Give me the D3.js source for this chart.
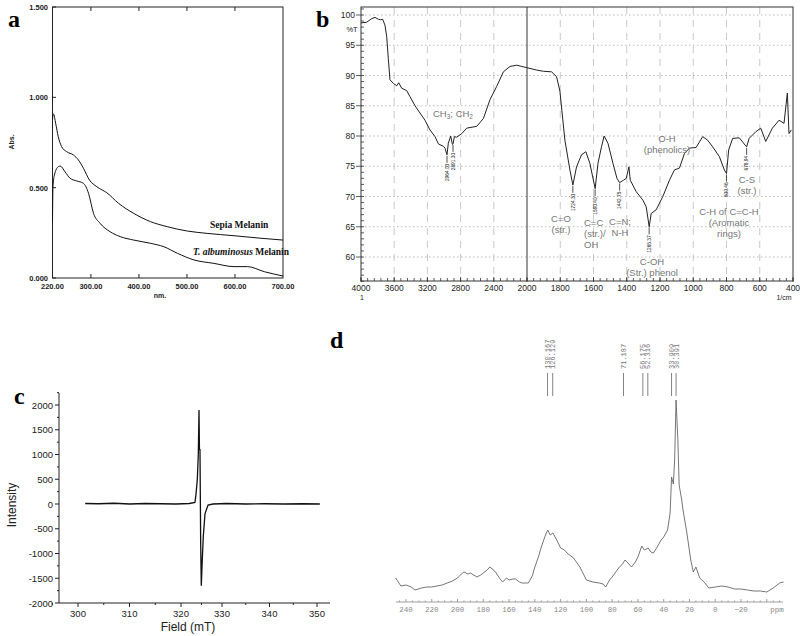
<!DOCTYPE html>
<html><head><meta charset="utf-8">
<script src="https://cdn.jsdelivr.net/npm/d3@7"></script>
<style>
html,body{margin:0;padding:0;background:#fff;}
svg{display:block;}
</style></head>
<body>
<svg id="fig" width="800" height="636"></svg>
<script>
// ---------- Panel a : UV-Vis ----------
const uvSepiaNm  = [220,221,222,226.6,232,239,249.6,263.5,274,284.5,297,312.4,333,357.7,389,424,459,500.6,542,598,654,700];
const uvSepiaAbs = [0.874,0.905,0.908,0.856,0.782,0.727,0.699,0.681,0.653,0.607,0.542,0.505,0.472,0.413,0.358,0.312,0.284,0.26,0.247,0.234,0.22,0.21];
const uvTalbNm   = [220,221,224,232,236,246,256.6,270.6,284.5,295,305.4,319,340,361,389,424,452,480,514.6,556,598,626,661,700];
const uvTalbAbs  = [0.312,0.505,0.57,0.616,0.62,0.588,0.552,0.537,0.524,0.469,0.358,0.303,0.256,0.229,0.21,0.192,0.173,0.137,0.1,0.081,0.063,0.063,0.035,0.011];
const uvXTicks = [220,300,400,500,600,700];
const uvYTicks = [0,0.5,1.0,1.5];

// ---------- Panel b : FTIR ----------
const irWn = [4000,3932,3871,3831,3791,3763,3739,3711,3690,3671,3651,3611,3570,3545,3510,3449,3410,3349,3289,3229,3169,3108,3068,3008,2988,2964,2948,2919,2899,2891,2875,2847,2786,2726,2605,2525,2446,2365,2285,2205,2124,2004,1942,1902,1852,1822,1802,1772,1742,1724,1702,1672,1646,1622,1590,1573,1552,1536,1513,1483,1459,1443,1419,1403,1387,1379,1343,1303,1283,1265,1253,1223,1183,1143,1113,1083,1053,1023,983,943,913,883,843,813,800,787,763,723,688,679,664,624,594,564,524,484,454,434,424,410];
const irT  = [98.7,98.8,99.4,99.6,99.3,99.2,99.3,98.3,96.4,92.8,89.3,88.7,88.3,88.8,87.9,87.5,86.5,85.0,83.8,82.6,81.0,79.9,78.7,78.3,78.0,76.9,78.8,80.0,78.6,78.7,79.9,79.8,80.4,81.3,81.6,82.9,86.0,88.2,90.6,91.5,91.7,91.3,90.9,90.7,90.6,89.8,87.4,79.3,74.4,71.9,74.9,76.9,77.4,75.5,71.3,75.5,78.2,80.0,78.8,75.5,73.0,72.3,72.7,73.0,74.9,72.7,70.8,69.4,68.3,65.0,67.2,67.8,70.0,72.7,74.4,74.7,77.1,78.0,78.1,79.9,79.3,78.2,76.6,74.4,73.8,77.7,79.6,79.7,78.5,78.2,79.6,80.7,81.3,79.1,81.3,82.6,82.1,87.1,80.4,81.0];
const irXTicks = [4000,3600,3200,2800,2400,2000,1800,1600,1400,1200,1000,800,600,400];
const irYTicks = [60,65,70,75,80,85,90,95,100];
const irPeakWn  = [2964.00,2891.30,1724.30,1590.40,1442.75,1265.37,800.46,678.94];
const irPeakLbl = ["2964.00","2891.30","1724.30","1590.40","1442.75","1265.37","800.46","678.94"];

// ---------- Panel c : EPR ----------
const eprField = [301.4,304,307,310,313,316,319,322,323.4,323.66,323.98,324.22,324.39,324.5,324.63,324.8,324.95,325.2,325.44,325.85,326.59,327.8,331,335,339,343,347,350.6];
const eprInt   = [10,5,15,0,10,5,0,10,30,200,500,1000,1900,1100,1100,-800,-1650,-1100,-650,-200,-20,0,10,0,5,0,5,0];
const eprXTicks = [300,310,320,330,340,350];
const eprYTicks = [-2000,-1500,-1000,-500,0,500,1000,1500,2000];

// ---------- Panel d : 13C NMR ----------
const nmrPpm = [248,244,240,236,233,228,224,220,216,212,208,204,200,197,195,192,190,185,182,180,177,175,172,170,167,165,162,160,157,155,152,150,147,145,142,140,137,135,132,130,128,126,123,120,117,115,110,105,100,95,90,87,85,82,80,75,72,70,67,65,62,60,57,55,52,50,48,45,42,40,37,35,33.9,32.5,31.5,30.4,29,28,26,25,22,19,17,15,12,8,5,0,-5,-10,-15,-20,-25,-30,-35,-40,-45,-50,-53];
const nmrInt = [11,7,7.5,6.5,5,6,6.5,6.5,7,7.5,8.5,9.5,11,13,14,13,13.5,11.5,12.5,13.5,15,16.5,15,13.5,10.5,9,11,10,10.5,10.5,9,8.5,8.5,8.5,12,16.5,22,26.5,32,35,32.5,33.5,30,26,25,23.5,21,16.5,10,9,8.5,8,6.5,10,11.5,16,18,20,18,16.5,19,21.5,27,25,26,24,23.5,26.5,30,31.5,35,43.5,61.5,58,70,100,80,57.5,50,45,33.5,20,14,16.5,11,8.5,6,6.5,7,6.5,5.5,5.5,5,4.5,4.5,4,6,8.5,9];
const nmrXTicks = [240,220,200,180,160,140,120,100,80,60,40,20,0,-20];
const nmrPeakPpm = [130.167,126.129,71.187,56.175,52.316,33.909,30.391];
const nmrPeakLbl = ["130.167","126.129","71.187","56.175","52.316","33.909","30.391"];

const svg = d3.select("#fig");
const SANS = "'Liberation Sans', Arial, sans-serif";
const SERIF = "'Liberation Serif', 'Times New Roman', serif";
const MONO = "'Liberation Mono', 'DejaVu Sans Mono', monospace";

function panelLetter(t, x, y){
  svg.append("text").attr("x",x).attr("y",y).text(t)
    .attr("font-family",SERIF).attr("font-weight","bold").attr("font-size",24).attr("fill","#000");
}

// ================= Panel a =================
(function(){
  const g = svg.append("g");
  const x = d3.scaleLinear().domain([220,700]).range([52.5,283]);
  const y = d3.scaleLinear().domain([0,1.5]).range([278,7]);
  g.append("rect").attr("x",52.5).attr("y",7).attr("width",230.5).attr("height",271)
    .attr("fill","none").attr("stroke","#222").attr("stroke-width",1);
  uvYTicks.forEach(v=>{
    g.append("line").attr("x1",52.5).attr("x2",56).attr("y1",y(v)).attr("y2",y(v)).attr("stroke","#222");
    g.append("text").attr("x",48).attr("y",y(v)+3).attr("text-anchor","end").text(v.toFixed(3))
      .attr("font-family",SANS).attr("font-weight","bold").attr("font-size",7.5).attr("fill","#222");
  });
  uvXTicks.forEach(v=>{
    if(v!==220 && v!==700){
      g.append("line").attr("x1",x(v)).attr("x2",x(v)).attr("y1",278).attr("y2",274).attr("stroke","#222");
      g.append("line").attr("x1",x(v)).attr("x2",x(v)).attr("y1",7).attr("y2",11).attr("stroke","#222");
    }
    g.append("text").attr("x",x(v)).attr("y",289).attr("text-anchor","middle").text(v.toFixed(2))
      .attr("font-family",SANS).attr("font-weight","bold").attr("font-size",7.5).attr("fill","#222");
  });
  g.append("text").attr("x",160).attr("y",298).attr("text-anchor","middle").text("nm.")
    .attr("font-family",SANS).attr("font-weight","bold").attr("font-size",7).attr("fill","#222");
  g.append("text").attr("transform","translate(14,142) rotate(-90)").attr("text-anchor","middle").text("Abs.")
    .attr("font-family",SANS).attr("font-weight","bold").attr("font-size",7).attr("fill","#222");
  const line = d3.line().x(d=>x(d[0])).y(d=>y(d[1])).curve(d3.curveMonotoneX);
  g.append("path").attr("d",line(uvSepiaNm.map((n,i)=>[n,uvSepiaAbs[i]])))
    .attr("fill","none").attr("stroke","#111").attr("stroke-width",1);
  g.append("path").attr("d",line(uvTalbNm.map((n,i)=>[n,uvTalbAbs[i]])))
    .attr("fill","none").attr("stroke","#111").attr("stroke-width",1);
  g.append("text").attr("x",210).attr("y",228).text("Sepia Melanin")
    .attr("font-family",SERIF).attr("font-weight","bold").attr("font-size",9.5).attr("fill","#111");
  const t2 = g.append("text").attr("x",193).attr("y",255)
    .attr("font-family",SERIF).attr("font-weight","bold").attr("font-size",9.5).attr("fill","#111");
  t2.append("tspan").attr("font-style","italic").text("T. albuminosus");
  t2.append("tspan").text(" Melanin");
  panelLetter("a", 8, 27);
})();

// ================= Panel b =================
(function(){
  const g = svg.append("g");
  const L=361, R=793, T=7, B=281;
  const x = d3.scaleLinear().domain([4000,2000,400]).range([L,527,R]);
  const y = d3.scaleLinear().domain([100,60]).range([15,257]);
  irYTicks.forEach(v=>{
    g.append("line").attr("x1",L).attr("x2",R).attr("y1",y(v)).attr("y2",y(v))
      .attr("stroke","#aaa").attr("stroke-width",0.8).attr("stroke-dasharray","1.5,2.5");
  });
  irXTicks.forEach(v=>{
    if(v===4000||v===400) return;
    if(v===2000){
      g.append("line").attr("x1",x(v)).attr("x2",x(v)).attr("y1",T).attr("y2",B).attr("stroke","#555").attr("stroke-width",1.2);
    } else {
      g.append("line").attr("x1",x(v)).attr("x2",x(v)).attr("y1",T).attr("y2",B)
        .attr("stroke","#bbb").attr("stroke-width",0.8).attr("stroke-dasharray","7,6");
    }
  });
  g.append("rect").attr("x",L).attr("y",T).attr("width",R-L).attr("height",B-T)
    .attr("fill","none").attr("stroke","#333").attr("stroke-width",1);
  d3.range(56,102,1).forEach(v=>{
    const major = v%5===0;
    g.append("line").attr("x1",major?L-5:L).attr("x2",L+3).attr("y1",y(v)).attr("y2",y(v)).attr("stroke","#333").attr("stroke-width",0.8);
  });
  irYTicks.forEach(v=>{
    g.append("text").attr("x",355).attr("y",y(v)+3).attr("text-anchor","end").text(v)
      .attr("font-family",SANS).attr("font-size",8.5).attr("fill","#222");
  });
  g.append("text").attr("x",352).attr("y",32).attr("text-anchor","middle").text("%T")
    .attr("font-family",SANS).attr("font-size",7.5).attr("fill","#222");
  const minorL = d3.range(4000,2000,-80), minorR = d3.range(2000,399,-40);
  minorL.concat(minorR).forEach(v=>{
    g.append("line").attr("x1",x(v)).attr("x2",x(v)).attr("y1",B).attr("y2",B-3).attr("stroke","#333").attr("stroke-width",0.8);
  });
  irXTicks.forEach(v=>{
    g.append("line").attr("x1",x(v)).attr("x2",x(v)).attr("y1",B+1).attr("y2",B-4).attr("stroke","#333").attr("stroke-width",0.8);
    g.append("text").attr("x",x(v)).attr("y",B+10).attr("text-anchor","middle").text(v)
      .attr("font-family",SANS).attr("font-size",8.5).attr("fill","#222");
  });
  g.append("text").attr("x",362).attr("y",B+19).attr("text-anchor","middle").text("1")
    .attr("font-family",SANS).attr("font-size",7).attr("fill","#222");
  g.append("text").attr("x",784).attr("y",B+19).attr("text-anchor","middle").text("1/cm")
    .attr("font-family",SANS).attr("font-size",7).attr("fill","#222");
  const line = d3.line().x(d=>x(d[0])).y(d=>y(d[1]));
  g.append("path").attr("d",line(irWn.map((w,i)=>[w,irT[i]])))
    .attr("fill","none").attr("stroke","#222").attr("stroke-width",1);
  const interp = w=>{
    for(let i=0;i<irWn.length-1;i++){
      if(w<=irWn[i] && w>=irWn[i+1]){
        const t=(irWn[i]-w)/(irWn[i]-irWn[i+1]); return irT[i]+(irT[i+1]-irT[i])*t;
      }
    }
    return irT[irT.length-1];
  };
  irPeakWn.forEach((w,i)=>{
    const py = y(interp(w));
    g.append("line").attr("x1",x(w)).attr("x2",x(w)).attr("y1",py+1).attr("y2",py+8).attr("stroke","#222").attr("stroke-width",0.8);
    g.append("text").attr("transform",`translate(${x(w)+1.8},${py+9}) rotate(-90)`).attr("text-anchor","end")
      .text(irPeakLbl[i]).attr("font-family",SANS).attr("font-size",4.8).attr("fill","#222");
  });
  const ann = (lines, cx, y0, anchor)=>{
    lines.forEach((s,k)=>{
      g.append("text").attr("x",cx).attr("y",y0+k*11).attr("text-anchor",anchor||"middle")
        .attr("font-family",SANS).attr("font-size",9.5).attr("fill","#777").text(s);
    });
  };
  const ch = g.append("text").attr("x",433).attr("y",117).attr("font-family",SANS).attr("font-size",9.5).attr("fill","#777");
  ch.append("tspan").text("CH");
  ch.append("tspan").attr("font-size",6.5).attr("dy",2).text("3");
  ch.append("tspan").attr("dy",-2).text("; CH");
  ch.append("tspan").attr("font-size",6.5).attr("dy",2).text("2");
  ann(["C=O","(str.)"], 561, 222);
  ann(["C=C","(str.)/","OH"], 584, 226, "start");
  ann(["C=N;","N-H"], 620, 225);
  ann(["C-OH","(Str.) phenol"], 652, 265);
  ann(["O-H","(phenolics)"], 667, 142);
  ann(["C-H of C=C-H","(Aromatic","rings)"], 729, 215);
  ann(["C-S","(str.)"], 747, 183);
  panelLetter("b", 316, 27);
})();

// ================= Panel c =================
(function(){
  const g = svg.append("g");
  const x = d3.scaleLinear().domain([300,320,330,350]).range([78,181,222,317]);
  const y = d3.scaleLinear().domain([-2000,2000]).range([603,405]);
  const L=59, B=603, T=393, R=330;
  g.append("line").attr("x1",L).attr("x2",L).attr("y1",T).attr("y2",B).attr("stroke","#222");
  g.append("line").attr("x1",L).attr("x2",R).attr("y1",B).attr("y2",B).attr("stroke","#222");
  d3.range(-2000,2251,250).forEach(v=>{
    const major = v%500===0;
    g.append("line").attr("x1",L).attr("x2",L-(major?4:2)).attr("y1",y(v)).attr("y2",y(v)).attr("stroke","#222");
  });
  eprYTicks.forEach(v=>{
    g.append("text").attr("x",L-6).attr("y",y(v)+3.5).attr("text-anchor","end").text(v)
      .attr("font-family",SANS).attr("font-size",9.5).attr("fill","#222");
  });
  [295,305,315,325,335,345].forEach(v=>{
    g.append("line").attr("x1",x(v)).attr("x2",x(v)).attr("y1",B).attr("y2",B+2).attr("stroke","#222");
  });
  eprXTicks.forEach(v=>{
    g.append("line").attr("x1",x(v)).attr("x2",x(v)).attr("y1",B).attr("y2",B+4).attr("stroke","#222");
    g.append("text").attr("x",x(v)).attr("y",B+14).attr("text-anchor","middle").text(v)
      .attr("font-family",SANS).attr("font-size",9.5).attr("fill","#222");
  });
  g.append("text").attr("x",188).attr("y",631).attr("text-anchor","middle").text("Field (mT)")
    .attr("font-family",SANS).attr("font-size",12).attr("fill","#222");
  g.append("text").attr("transform","translate(16,505) rotate(-90)").attr("text-anchor","middle").text("Intensity")
    .attr("font-family",SANS).attr("font-size",12).attr("fill","#222");
  const line = d3.line().x(d=>x(d[0])).y(d=>y(d[1]));
  g.append("path").attr("d",line(eprField.map((f,i)=>[f,eprInt[i]])))
    .attr("fill","none").attr("stroke","#111").attr("stroke-width",1.3);
  panelLetter("c", 14, 404);
})();

// ================= Panel d =================
(function(){
  const g = svg.append("g");
  const x = d3.scaleLinear().domain([240,-20]).range([406,741]);
  const y = d3.scaleLinear().domain([0,100]).range([600,400]);
  const AY = 602;
  g.append("line").attr("x1",396).attr("x2",783).attr("y1",AY).attr("y2",AY).attr("stroke","#888").attr("stroke-width",0.8);
  d3.range(245,-55,-5).forEach(v=>{
    const major = v%20===0;
    g.append("line").attr("x1",x(v)).attr("x2",x(v)).attr("y1",AY).attr("y2",AY-(major?3:1.5)).attr("stroke","#888").attr("stroke-width",0.8);
  });
  nmrXTicks.forEach(v=>{
    g.append("text").attr("x",x(v)).attr("y",AY+10).attr("text-anchor","middle").text(v===-20?"\u221220":v)
      .attr("font-family",MONO).attr("font-size",7.5).attr("fill","#888");
  });
  g.append("text").attr("x",777).attr("y",AY+10).attr("text-anchor","middle").text("ppm")
    .attr("font-family",MONO).attr("font-size",7.5).attr("fill","#888");
  const line = d3.line().x(d=>x(d[0])).y(d=>y(d[1]));
  g.append("path").attr("d",line(nmrPpm.map((p,i)=>[p,nmrInt[i]])))
    .attr("fill","none").attr("stroke","#666").attr("stroke-width",0.9);
  nmrPeakPpm.forEach((p,i)=>{
    g.append("line").attr("x1",x(p)).attr("x2",x(p)).attr("y1",373).attr("y2",396).attr("stroke","#777").attr("stroke-width",0.9);
    g.append("text").attr("transform",`translate(${x(p)+2.5},369) rotate(-90)`).attr("text-anchor","start")
      .text(nmrPeakLbl[i]).attr("font-family",MONO).attr("font-size",7).attr("fill","#777");
  });
  panelLetter("d", 330, 348);
})();
</script>
</body></html>
